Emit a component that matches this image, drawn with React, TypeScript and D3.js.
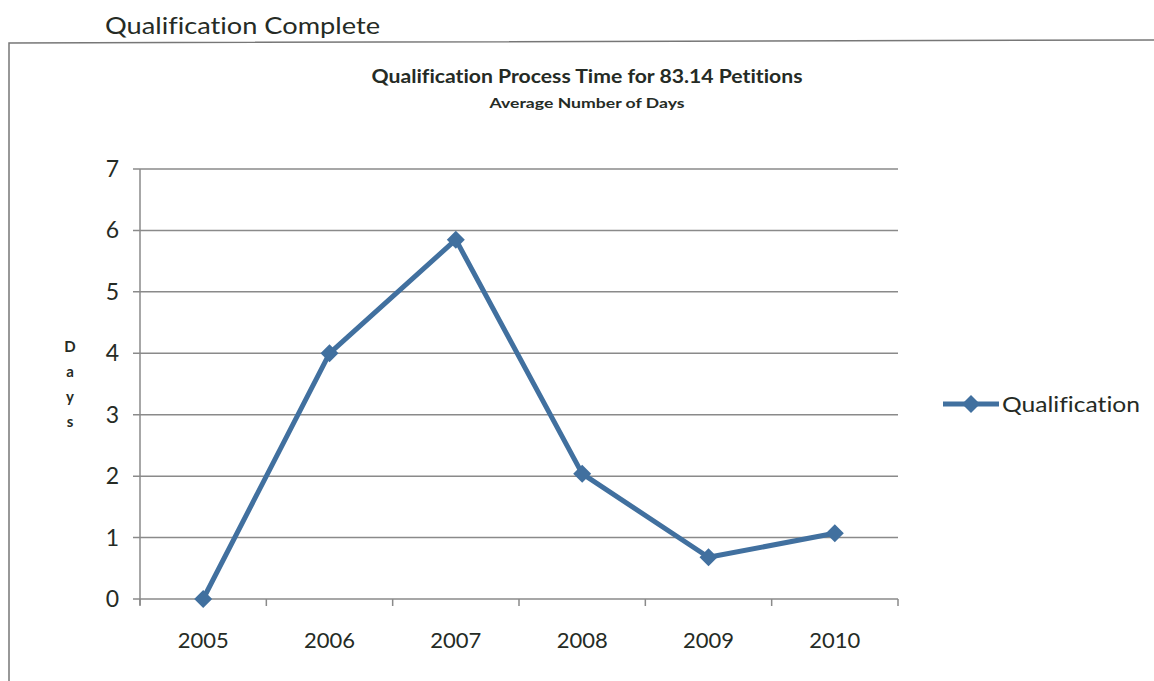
import React from "react";
import * as d3 from "d3";

const years = ["2005", "2006", "2007", "2008", "2009", "2010"];
const qualification = [0, 4.0, 5.85, 2.04, 0.68, 1.07];
const yTicks = [0, 1, 2, 3, 4, 5, 6, 7];
const seriesName = "Qualification";
const pageTitle = "Qualification Complete";
const chartTitle = "Qualification Process Time for 83.14 Petitions";
const chartSubtitle = "Average Number of Days";
const yAxisLetters = ["D", "a", "y", "s"];

const W = 1154;
const H = 681;
const plot = { left: 140, right: 898, top: 169, bottom: 599 };
const lineColor = "#41709f";
const textColor = "#252b25";
const gridColor = "#8a8a8a";
const font = "Lato, 'Open Sans', sans-serif";

export default function App() {
  const x = d3.scaleBand<string>().domain(years).range([plot.left, plot.right]);
  const y = d3.scaleLinear().domain([0, 7]).range([plot.bottom, plot.top]);
  const cx = (d: string) => (x(d) as number) + x.bandwidth() / 2;
  const line = d3
    .line<number>()
    .x((_, i) => cx(years[i]))
    .y((v) => y(v));
  const diamond = (px: number, py: number, r: number) =>
    `M${px},${py - r}L${px + r},${py}L${px},${py + r}L${px - r},${py}Z`;
  const boundaries = years.map((d) => x(d) as number).concat([plot.right]);

  return (
    <svg
      width={W}
      height={H}
      style={{ position: "absolute", left: 0, top: 0, background: "#fff", fontVariantLigatures: "none" }}
      fontFamily={font}
    >
      <rect x={0} y={0} width={W} height={H} fill="#ffffff" />
      <text x={105} y={34} fontSize={24} fill={textColor} textLength={275} lengthAdjust="spacingAndGlyphs">
        {pageTitle}
      </text>
      {/* outer border */}
      <path d={`M9,${H + 2}L9,43L${W + 2},40`} fill="none" stroke="#777" strokeWidth={1.5} />

      <text x={587} y={83} fontSize={18} fontWeight={700} fill={textColor} textAnchor="middle" textLength={431} lengthAdjust="spacingAndGlyphs">
        {chartTitle}
      </text>
      <text x={587} y={108} fontSize={14} fontWeight={700} fill={textColor} textAnchor="middle" textLength={195} lengthAdjust="spacingAndGlyphs">
        {chartSubtitle}
      </text>

      {/* gridlines */}
      {yTicks.map((t) => (
        <line key={t} x1={plot.left - 7} x2={plot.right} y1={y(t)} y2={y(t)} stroke={gridColor} strokeWidth={1.5} />
      ))}
      {/* y axis */}
      <line x1={plot.left} x2={plot.left} y1={plot.top} y2={plot.bottom + 6} stroke={gridColor} strokeWidth={1.5} />
      {boundaries.map((b, i) => (
        <line key={i} x1={b} x2={b} y1={plot.bottom} y2={plot.bottom + 7} stroke={gridColor} strokeWidth={1.5} />
      ))}
      {yTicks.map((t) => (
        <text key={t} x={119} y={y(t) + 8} fontSize={23} fill={textColor} textAnchor="end">
          {t}
        </text>
      ))}
      {years.map((d) => (
        <text key={d} x={cx(d)} y={648} fontSize={22} fill={textColor} textAnchor="middle">
          {d}
        </text>
      ))}
      {yAxisLetters.map((l, i) => (
        <text key={i} x={70} y={352 + i * 25} fontSize={15} fontWeight={700} fill={textColor} textAnchor="middle">
          {l}
        </text>
      ))}

      <path d={line(qualification) as string} fill="none" stroke={lineColor} strokeWidth={5} strokeLinejoin="round" />
      {qualification.map((v, i) => (
        <path key={i} d={diamond(cx(years[i]), y(v), 9)} fill={lineColor} />
      ))}

      {/* legend */}
      <line x1={943} x2={999} y1={404} y2={404} stroke={lineColor} strokeWidth={5} />
      <path d={diamond(971, 404, 9)} fill={lineColor} />
      <text x={1002} y={412} fontSize={22} fill={textColor} textLength={138} lengthAdjust="spacingAndGlyphs">
        {seriesName}
      </text>
    </svg>
  );
}
